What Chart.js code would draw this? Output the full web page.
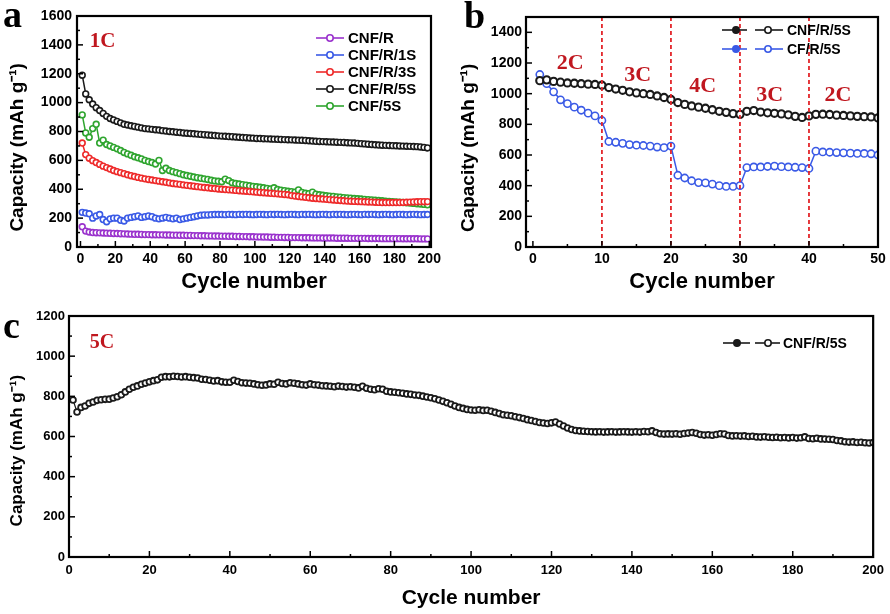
<!DOCTYPE html>
<html>
<head>
<meta charset="utf-8">
<script src="https://cdn.jsdelivr.net/npm/chart.js@4"></script>
<style>
  body { margin: 0; background: #fff; width: 890px; height: 614px; position: relative; overflow: hidden; }
  canvas { position: absolute; }
  #chartA { left: 0; top: 0; }
  #chartB { left: 450px; top: 0; }
  #chartC { left: 0; top: 300px; }
</style>
</head>
<body>
<canvas id="chartA" width="445" height="300"></canvas>
<canvas id="chartB" width="440" height="300"></canvas>
<canvas id="chartC" width="890" height="314"></canvas>
<script>
const SANS = 'Arial, "Liberation Sans", sans-serif';
const SERIF = '"Times New Roman", "Liberation Serif", serif';
const RATE_RED = '#c0171f';

// ---- (a) cycling at 1C, values read every second cycle ----
const cyclesA = Array.from({ length: 100 }, (_, i) => 1 + 2 * i);
const capCNF_R = [
  140,110,104,100,99,98,97,96,95,94, 93,92,91,90,89,88,88,87,86,86,
  85,85,84,84,83,83,82,82,81,81, 80,80,79,79,78,78,77,77,76,76,
  75,75,74,74,73,73,72,72,71,71, 70,70,69,69,68,68,67,67,66,66,
  65,65,65,64,64,64,63,63,63,62, 62,62,62,61,61,61,61,60,60,60,
  60,60,59,59,59,59,58,58,58,58, 58,58,57,57,57,57,57,56,56,56
];
const capCNF_R_1S = [
  240,235,230,200,215,225,190,175,195,200, 200,185,180,200,205,210,215,205,210,215,
  210,200,195,200,205,200,195,200,190,195, 200,205,210,215,220,222,222,224,225,225,
  225,224,226,225,224,226,225,226,225,224, 225,226,225,224,226,225,226,225,224,225,
  226,225,224,226,225,226,225,224,225,226, 225,224,226,225,226,225,224,225,226,225,
  224,226,225,226,225,224,225,226,225,224, 225,226,225,224,225,226,225,224,225,225
];
const capCNF_R_3S = [
  720,640,615,598,585,572,560,550,540,530, 522,515,508,500,494,488,482,477,472,468,
  464,460,456,452,448,444,440,437,434,430, 427,424,421,418,415,412,410,407,405,402,
  400,398,396,394,392,390,388,386,384,382, 380,378,376,374,372,370,368,366,364,362,
  356,353,350,347,344,341,338,336,334,332, 330,328,326,324,322,320,318,317,316,315,
  314,313,312,311,310,309,308,308,308,308, 308,308,309,310,311,312,313,314,314,314
];
const capCNF_R_5S = [
  1190,1060,1020,990,965,945,925,905,890,880, 870,860,850,845,840,835,830,825,820,818,
  815,812,810,806,803,800,798,795,793,790, 788,786,784,782,780,778,776,774,772,770,
  768,767,765,764,762,760,758,757,755,754, 752,751,750,749,748,747,746,745,744,743,
  742,741,740,739,738,736,734,732,731,730, 729,728,727,726,725,724,722,721,720,718,
  716,714,712,710,708,706,705,704,703,702, 701,700,699,698,697,696,695,693,690,686
];
const capCNF_5S = [
  915,790,760,820,850,720,740,710,700,690, 680,668,655,645,635,625,618,610,600,592,
  585,575,600,530,545,530,522,515,508,500, 495,490,485,480,476,472,468,462,458,455,
  452,470,460,445,440,436,432,428,424,420, 417,414,410,406,402,410,398,394,390,386,
  383,380,395,378,372,370,380,366,362,358, 355,352,350,347,345,342,340,338,336,334,
  332,330,328,326,324,322,320,318,316,314, 312,310,308,306,304,302,300,298,295,292
];
const seriesA = ['CNF/R', 'CNF/R/1S', 'CNF/R/3S', 'CNF/R/5S', 'CNF/5S'];
const valuesA = [capCNF_R, capCNF_R_1S, capCNF_R_3S, capCNF_R_5S, capCNF_5S];
const colorsA = ['#9a32cd', '#3a5ae6', '#ee2a2a', '#1a1a1a', '#2fa52f'];
const xTicksA = [0, 20, 40, 60, 80, 100, 120, 140, 160, 180, 200];
const yTicksA = [0, 200, 400, 600, 800, 1000, 1200, 1400, 1600];

// ---- (b) rate test ----
const cyclesB = Array.from({ length: 50 }, (_, i) => i + 1);
const rateCNF_R_5S = [
  1085,1090,1080,1075,1070,1068,1065,1062,1060,1055,
  1040,1030,1022,1012,1005,1000,995,985,975,962,
  942,930,920,912,905,895,885,878,870,865,
  885,890,880,875,872,868,862,852,845,855,
  865,866,864,860,858,855,852,850,848,842
];
const rateCF_R_5S = [
  1125,1065,1012,960,935,912,892,873,855,825,
  688,683,676,668,664,662,658,652,648,658,
  468,450,432,420,418,410,400,395,395,400,
  518,522,522,525,528,524,522,520,518,512,
  625,620,618,616,614,612,610,610,608,600
];
const seriesB = ['CNF/R/5S', 'CF/R/5S'];
const colorsB = ['#1a1a1a', '#3a5ae6'];
const rateSteps = [10, 20, 30, 40];
const rateNames = ['2C', '3C', '4C', '3C', '2C'];
const rateNameCycle = [5.4, 15.2, 24.6, 34.3, 44.2];
const rateNameCap = [1200, 1120, 1045, 990, 990];
const xTicksB = [0, 10, 20, 30, 40, 50];
const yTicksB = [0, 200, 400, 600, 800, 1000, 1200, 1400];

// ---- (c) long cycling at 5C ----
const cyclesC = Array.from({ length: 200 }, (_, i) => i + 1);
const longCNF_R_5S = [
  782,722,745,752,765,772,780,783,785,786, 792,798,808,822,835,845,852,860,866,872,
  878,882,895,898,897,900,899,896,898,895, 893,891,885,884,880,876,878,872,870,870,
  880,874,868,866,865,862,858,855,857,862, 860,870,864,862,868,865,862,858,856,862,
  858,856,853,852,850,848,851,849,846,848, 845,842,850,840,835,833,838,835,825,822,
  820,818,815,812,810,807,805,801,797,793, 788,782,775,768,760,752,745,740,735,732,
  731,733,730,731,726,720,714,708,706,703, 698,694,690,684,680,675,670,667,665,668,
  672,662,652,642,635,630,628,626,625,624, 623,624,622,623,624,622,623,624,623,622,
  624,622,625,624,628,620,614,612,613,612, 614,611,615,617,620,616,610,607,609,606,
  610,614,612,605,603,604,602,603,600,601, 598,597,599,596,595,596,594,595,593,595,
  592,594,598,590,589,591,588,587,586,585, 580,578,574,572,573,570,571,569,568,570
];
const xTicksC = [0, 20, 40, 60, 80, 100, 120, 140, 160, 180, 200];
const yTicksC = [0, 200, 400, 600, 800, 1000, 1200];

const pts = (xs, ys) => xs.map((x, i) => ({ x, y: ys[i] }));

// frame, inward ticks, rate lines, notes and legend
const figureDecor = {
  id: 'figureDecor',
  afterDatasetsDraw(chart, args, opts) {
    const { ctx, chartArea: a, scales: { x, y } } = chart;
    ctx.save();

    (opts.vlines || []).forEach(v => {
      const px = x.getPixelForValue(v);
      ctx.strokeStyle = '#e3262b';
      ctx.lineWidth = 1.8;
      ctx.setLineDash([4, 3]);
      ctx.beginPath();
      ctx.moveTo(px, a.top);
      ctx.lineTo(px, a.bottom);
      ctx.stroke();
    });
    ctx.setLineDash([]);

    ctx.strokeStyle = '#000';
    ctx.lineWidth = 2.2;
    ctx.strokeRect(a.left, a.top, a.right - a.left, a.bottom - a.top);

    ctx.lineWidth = 1.5;
    const inward = (scale, horizontal) => {
      const vals = scale.ticks.map(t => t.value);
      const marks = [];
      vals.forEach((v, i) => {
        marks.push([v, 6]);
        if (i < vals.length - 1) marks.push([(v + vals[i + 1]) / 2, 3]);
      });
      marks.forEach(([v, len]) => {
        const p = scale.getPixelForValue(v);
        ctx.beginPath();
        if (horizontal) { ctx.moveTo(p, a.bottom); ctx.lineTo(p, a.bottom - len); }
        else { ctx.moveTo(a.left, p); ctx.lineTo(a.left + len, p); }
        ctx.stroke();
      });
    };
    inward(x, true);
    inward(y, false);

    (opts.notes || []).forEach(n => {
      ctx.font = `bold ${n.size}px ${SERIF}`;
      ctx.fillStyle = RATE_RED;
      ctx.textAlign = 'center';
      ctx.textBaseline = 'middle';
      ctx.fillText(n.text, x.getPixelForValue(n.x), y.getPixelForValue(n.y));
    });

    if (opts.letter) {
      ctx.font = `bold 38px ${SERIF}`;
      ctx.fillStyle = '#000';
      ctx.textAlign = 'left';
      ctx.textBaseline = 'alphabetic';
      ctx.fillText(opts.letter.text, opts.letter.x, opts.letter.y);
    }

    const lg = opts.legend;
    if (lg) {
      chart.data.datasets.forEach((ds, i) => {
        const ly = lg.y + i * lg.row;
        lg.segs.forEach(([x0, x1, mx, filled]) => {
          ctx.strokeStyle = ds.borderColor;
          ctx.lineWidth = 1.6;
          ctx.beginPath();
          ctx.moveTo(x0, ly);
          ctx.lineTo(x1, ly);
          ctx.stroke();
          ctx.beginPath();
          ctx.arc(mx, ly, 3.2, 0, Math.PI * 2);
          ctx.fillStyle = filled ? ds.borderColor : '#fff';
          ctx.fill();
          ctx.lineWidth = 1.6;
          ctx.stroke();
        });
        ctx.font = `bold ${lg.size}px ${SANS}`;
        ctx.fillStyle = '#000';
        ctx.textAlign = 'left';
        ctx.textBaseline = 'middle';
        ctx.fillText(ds.label, lg.textX, ly + 1);
      });
    }
    ctx.restore();
  }
};

function axes(o) {
  const tickFont = { family: SANS, size: o.tickSize, weight: 'bold' };
  return {
    x: {
      type: 'linear', min: o.xMin, max: o.xMax,
      afterBuildTicks: s => { s.ticks = o.xTicks.map(v => ({ value: v })); },
      afterFit: s => { s.height = o.xHeight; },
      grid: { display: false, drawTicks: false },
      border: { display: false },
      ticks: { padding: o.xPad, color: '#000', font: tickFont, autoSkip: false, maxRotation: 0, callback: v => String(v) },
      title: {
        display: true, text: 'Cycle number', color: '#000',
        font: { family: SANS, size: o.xTitleSize, weight: 'bold' },
        padding: { top: 0, bottom: o.xTitlePad }
      }
    },
    y: {
      type: 'linear', min: o.yMin, max: o.yMax,
      afterBuildTicks: s => { s.ticks = o.yTicks.map(v => ({ value: v })); },
      afterFit: s => { s.width = o.yWidth; },
      grid: { display: false, drawTicks: false },
      border: { display: false },
      ticks: { padding: o.yPad, color: '#000', font: tickFont, autoSkip: false, callback: v => String(v) },
      title: {
        display: true, text: 'Capacity (mAh g\u207B\u00B9)      ', color: '#000',
        font: { family: SANS, size: o.yTitleSize, weight: 'bold' },
        padding: { top: o.yTitlePad, bottom: 0 }
      }
    }
  };
}

const common = {
  responsive: false,
  animation: false,
  events: []
};

// (a)
new Chart(document.getElementById('chartA'), {
  type: 'line',
  data: {
    datasets: seriesA.map((name, i) => ({
      label: name,
      data: pts(cyclesA, valuesA[i]),
      borderColor: colorsA[i],
      backgroundColor: '#fff',
      borderWidth: 1.5,
      pointRadius: 2.9,
      pointBorderWidth: 1.6,
      pointBackgroundColor: '#fff',
      pointBorderColor: colorsA[i]
    }))
  },
  options: {
    ...common,
    layout: { padding: { top: 16, right: 13, left: 0, bottom: 0 } },
    scales: axes({
      xMin: -2, xMax: 201, xTicks: xTicksA, yMin: 0, yMax: 1600, yTicks: yTicksA,
      xHeight: 53, yWidth: 77, tickSize: 14, xPad: 4, yPad: 5,
      xTitleSize: 22, xTitlePad: 5, yTitleSize: 19, yTitlePad: 6
    }),
    plugins: {
      legend: { display: false },
      tooltip: { enabled: false },
      figureDecor: {
        letter: { text: 'a', x: 3, y: 27 },
        notes: [{ text: '1C', x: 12.6, y: 1420, size: 21 }],
        legend: { y: 38, row: 17, size: 15, textX: 348, segs: [[316, 344, 330, false]] }
      }
    }
  },
  plugins: [figureDecor]
});

// (b)
new Chart(document.getElementById('chartB'), {
  type: 'line',
  data: {
    datasets: [rateCNF_R_5S, rateCF_R_5S].map((vals, i) => ({
      label: seriesB[i],
      data: pts(cyclesB, vals),
      borderColor: colorsB[i],
      backgroundColor: '#fff',
      borderWidth: 1.5,
      pointRadius: 3.6,
      pointBorderWidth: i === 0 ? 2.1 : 1.6,
      pointBackgroundColor: '#fff',
      pointBorderColor: colorsB[i]
    }))
  },
  options: {
    ...common,
    layout: { padding: { top: 17, right: 12, left: 0, bottom: 0 } },
    scales: axes({
      xMin: -1, xMax: 50, xTicks: xTicksB, yMin: 0, yMax: 1500, yTicks: yTicksB,
      xHeight: 53, yWidth: 76, tickSize: 14, xPad: 4, yPad: 4,
      xTitleSize: 22, xTitlePad: 5, yTitleSize: 19, yTitlePad: 7
    }),
    plugins: {
      legend: { display: false },
      tooltip: { enabled: false },
      figureDecor: {
        vlines: rateSteps,
        letter: { text: 'b', x: 14, y: 28 },
        notes: rateNames.map((t, i) => ({ text: t, x: rateNameCycle[i], y: rateNameCap[i], size: 22 })),
        legend: { y: 30, row: 19, size: 14, textX: 337, segs: [[272, 297, 286, true], [305, 333, 318, false]] }
      }
    }
  },
  plugins: [figureDecor]
});

// (c)
new Chart(document.getElementById('chartC'), {
  type: 'line',
  data: {
    datasets: [{
      label: 'CNF/R/5S',
      data: pts(cyclesC, longCNF_R_5S),
      borderColor: '#1a1a1a',
      backgroundColor: '#fff',
      borderWidth: 1.2,
      pointRadius: 2.9,
      pointBorderWidth: 1.8,
      pointBackgroundColor: '#fff',
      pointBorderColor: '#1a1a1a'
    }]
  },
  options: {
    ...common,
    layout: { padding: { top: 16, right: 13, left: 0, bottom: 0 } },
    scales: axes({
      xMin: 0, xMax: 200, xTicks: xTicksC, yMin: 0, yMax: 1200, yTicks: yTicksC,
      xHeight: 57, yWidth: 69, tickSize: 13, xPad: 6, yPad: 4,
      xTitleSize: 21, xTitlePad: 3, yTitleSize: 17, yTitlePad: 7
    }),
    plugins: {
      legend: { display: false },
      tooltip: { enabled: false },
      figureDecor: {
        letter: { text: 'c', x: 3, y: 38 },
        notes: [{ text: '5C', x: 8.2, y: 1066, size: 20 }],
        legend: { y: 43, row: 18, size: 14, textX: 783, segs: [[723, 750, 737, true], [755, 780, 768, false]] }
      }
    }
  },
  plugins: [figureDecor]
});
</script>
</body>
</html>
